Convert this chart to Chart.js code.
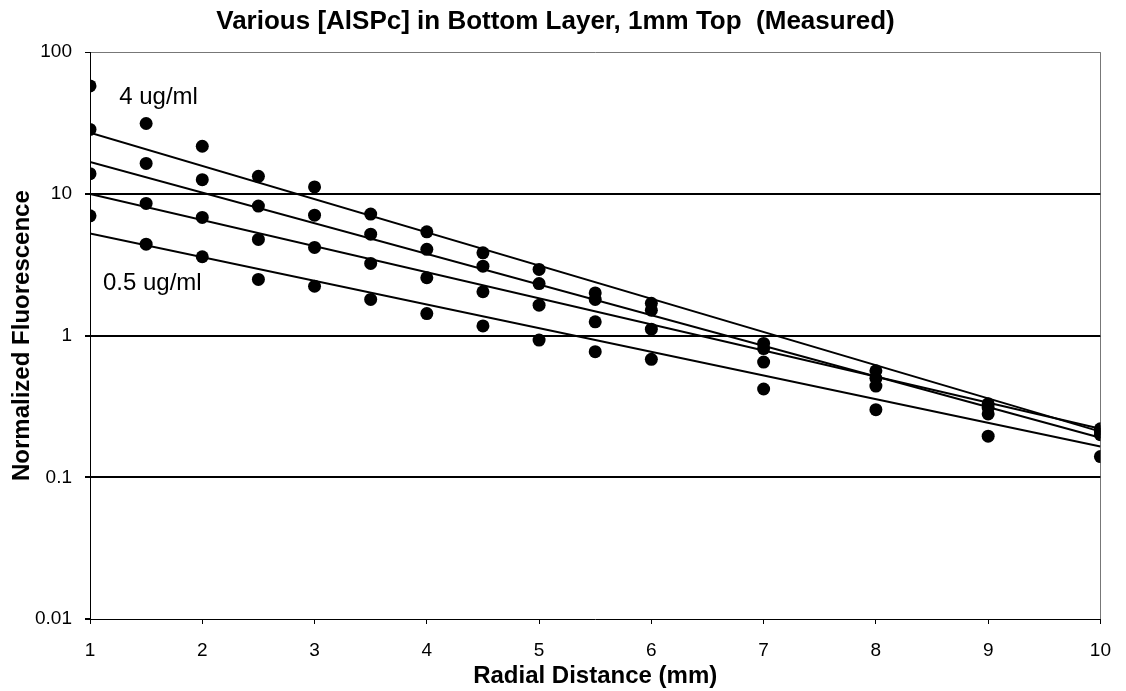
<!DOCTYPE html>
<html>
<head>
<meta charset="utf-8">
<script src="https://cdn.jsdelivr.net/npm/chart.js@4.4.0/dist/chart.umd.min.js"></script>
<style>
  html, body { margin: 0; padding: 0; background: #fff; }
  #wrap { width: 1126px; height: 691px; }
</style>
</head>
<body>
<div id="wrap"><canvas id="chart"></canvas></div>
<script>
// measured points (one value per radial distance)
const radialDistance = [1, 1.5, 2, 2.5, 3, 3.5, 4, 4.5, 5, 5.5, 6, 7, 8, 9, 10];
const conc4 = [57.8, 31.4, 21.7, 13.3, 11.2, 7.2, 5.4, 3.84, 2.93, 2.0, 1.69, 0.88, 0.565, 0.33, 0.22];
const conc2 = [28.5, 16.4, 12.6, 8.2, 7.08, 5.2, 4.06, 3.09, 2.33, 1.8, 1.51, 0.81, 0.5, 0.31, 0.21];
const conc1 = [13.9, 8.57, 6.82, 4.77, 4.19, 3.23, 2.56, 2.04, 1.64, 1.25, 1.11, 0.65, 0.44, 0.28, 0.2];
const conc05 = [7.0, 4.42, 3.6, 2.49, 2.23, 1.8, 1.43, 1.17, 0.93, 0.77, 0.68, 0.42, 0.3, 0.195, 0.14];

// trend lines: value at x = 1 and at x = 10
const fitX = [1, 10];
const fit4 = [27, 0.21];
const fit2 = [16.8, 0.19];
const fit1 = [10, 0.22];
const fit05 = [5.26, 0.165];

const xTicks = [1, 2, 3, 4, 5, 6, 7, 8, 9, 10];
const yTicks = [0.01, 0.1, 1, 10, 100];

const seriesNotes = [
  { text: '4 ug/ml', x: 1.26, y: 48 },
  { text: '0.5 ug/ml', x: 1.115, y: 2.34 },
];

const sans = '"Liberation Sans", Arial, Helvetica, sans-serif';

function pts(xs, ys) {
  return xs.map((x, i) => ({ x: x, y: ys[i] }));
}

function dots(ys) {
  return {
    type: 'scatter',
    data: pts(radialDistance, ys),
    pointRadius: 6.5,
    pointHoverRadius: 6.5,
    pointBackgroundColor: '#000',
    pointBorderColor: '#000',
    pointBorderWidth: 0,
    showLine: false,
  };
}

function trend(ys) {
  return {
    type: 'line',
    data: pts(fitX, ys),
    borderColor: '#000',
    borderWidth: 2,
    pointRadius: 0,
    fill: false,
    tension: 0,
  };
}

const notesPlugin = {
  id: 'seriesNotes',
  afterDatasetsDraw(chart) {
    const { ctx, scales } = chart;
    ctx.save();
    ctx.font = '24px ' + sans;
    ctx.fillStyle = '#000';
    ctx.textBaseline = 'middle';
    ctx.textAlign = 'left';
    seriesNotes.forEach(n => {
      ctx.fillText(n.text, scales.x.getPixelForValue(n.x), scales.y.getPixelForValue(n.y));
    });
    ctx.restore();
  },
};

new Chart(document.getElementById('chart'), {
  type: 'scatter',
  data: {
    datasets: [
      trend(fit4), trend(fit2), trend(fit1), trend(fit05),
      dots(conc4), dots(conc2), dots(conc1), dots(conc05),
    ],
  },
  options: {
    responsive: true,
    maintainAspectRatio: false,
    animation: false,
    layout: { padding: { left: 0, right: 15, top: 0, bottom: 0 } },
    plugins: {
      legend: { display: false },
      tooltip: { enabled: false },
      title: {
        display: true,
        text: 'Various [AlSPc] in Bottom Layer, 1mm Top  (Measured)',
        color: '#000',
        font: { family: sans, size: 26, weight: 'bold', lineHeight: 1.2 },
        padding: { top: 6, bottom: 15 },
      },
    },
    scales: {
      x: {
        type: 'linear',
        min: 1,
        max: 10,
        afterBuildTicks: (scale) => { scale.ticks = xTicks.map(v => ({ value: v })); },
        afterFit: (scale) => { scale.height = 72; },
        ticks: { color: '#000', padding: 15, font: { family: sans, size: 19 } },
        grid: {
          color: (c) => (c.tick && c.tick.value === 10 ? '#777' : 'transparent'),
          lineWidth: 1,
          tickColor: '#000',
          tickLength: 5,
        },
        border: { display: true, color: '#000', width: 1 },
        title: {
          display: true,
          text: 'Radial Distance (mm)',
          color: '#000',
          font: { family: sans, size: 24, weight: 'bold', lineHeight: 1.2 },
          padding: { top: 0, bottom: 0 },
        },
      },
      y: {
        type: 'logarithmic',
        min: 0.01,
        max: 100,
        afterBuildTicks: (scale) => { scale.ticks = yTicks.map(v => ({ value: v })); },
        afterFit: (scale) => { scale.width = 90; },
        ticks: {
          color: '#000',
          padding: 13,
          font: { family: sans, size: 19 },
          callback: (v) => String(v),
        },
        grid: {
          color: (c) => {
            if (!c.tick) return 'transparent';
            if (c.tick.value === 100) return '#777';
            if (c.tick.value === 0.01) return 'transparent';
            return '#000';
          },
          lineWidth: (c) => (c.tick && c.tick.value === 100 ? 1 : 2),
          tickColor: '#000',
          tickLength: 5,
        },
        border: { display: true, color: '#000', width: 1 },
        title: {
          display: true,
          text: 'Normalized Fluorescence',
          color: '#000',
          font: { family: sans, size: 24, weight: 'bold', lineHeight: 1.2 },
          padding: { top: 8, bottom: 0 },
        },
      },
    },
  },
  plugins: [notesPlugin],
});
</script>
</body>
</html>
